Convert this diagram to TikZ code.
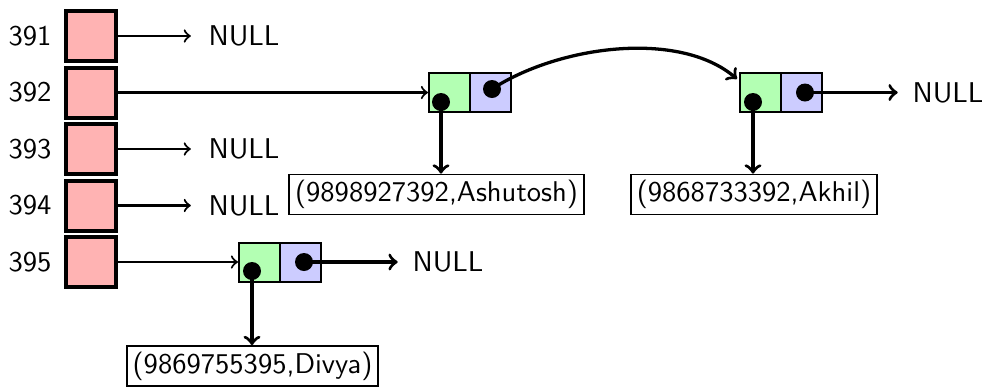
\documentclass[tikz,border=0pt]{standalone}
\usetikzlibrary{calc}
\definecolor{slotpink}{HTML}{FFB3B3}
\definecolor{datagreen}{HTML}{B3FFB3}
\definecolor{nextblue}{HTML}{CCCCFF}
\begin{document}
\begin{tikzpicture}[x=0.35pt,y=-0.35pt,font=\sffamily,
  slot/.style={draw,line width=1.4pt,fill=slotpink,minimum width=17.5pt,minimum height=17.5pt,inner sep=0pt},
  datacell/.style={draw,line width=0.7pt,fill=datagreen,minimum width=14.35pt,minimum height=13.65pt,inner sep=0pt},
  nextcell/.style={datacell,fill=nextblue},
  keybox/.style={draw,line width=0.6pt,inner sep=2pt,minimum height=13.3pt},
  nulltext/.style={anchor=west,inner sep=0pt},
  nullarrow/.style={->,line width=0.75pt,shorten >=6pt},
  ptr/.style={->,line width=1.15pt},
  ptrnull/.style={ptr,shorten >=5pt},
  dot/.style={circle,fill=black,inner sep=0pt,minimum size=6.3pt}]
\useasboundingbox (0,0) rectangle (985,388);

% hash table slots and their indices
\foreach \i/\y in {1/36,2/92.5,3/149,4/205.5,5/262}{
  \node[slot] (s\i) at (91,\y) {};
  \node[anchor=east,inner sep=0pt] (l\i) at (52,\y) {39\i};
}

% empty buckets
\node[nulltext] (z1) at (208,36) {NULL};
\node[nulltext] (z3) at (208,149) {NULL};
\node[nulltext] (z4) at (208,205.5) {NULL};
\draw[nullarrow] (s1.east) -- (z1.west);
\draw[nullarrow] (s3.east) -- (z3.west);
\draw[nullarrow] (s4.east) -- (z4.west);

% bucket 392: first list node
\node[datacell] (a1) at (449.5,92.5) {};
\node[nextcell] (b1) at (490.5,92.5) {};
\node[dot] (da1) at ($(a1)+(-8.5,9.5)$) {};
\node[dot] (db1) at ($(b1)+(1.5,-3.5)$) {};
\node[keybox] (k1) at (436.5,194.5) {(9898927392,Ashutosh)};
\draw[nullarrow,shorten >=0pt] (s2.east) -- (a1.west);
\draw[ptr] (da1.center) -- (da1.center |- k1.north);

% bucket 392: second list node
\node[datacell] (a2) at (760.5,92.5) {};
\node[nextcell] (b2) at (801.5,92.5) {};
\node[dot] (da2) at ($(a2)+(-7.5,9.5)$) {};
\node[dot] (db2) at ($(b2)+(3.5,0)$) {};
\node[keybox] (k2) at (754,194.5) {(9868733392,Akhil)};
\node[nulltext] (z2) at (912,92.5) {NULL};
\coordinate (in2) at ($(a2.north west)+(-2,7)$);
\draw[ptr] (db1.center) .. controls (560,45) and (680,30) .. (in2);
\draw[ptr] (da2.center) -- (da2.center |- k2.north);
\draw[ptrnull] (db2.center) -- (z2.west);

% bucket 395: single list node
\node[datacell] (a3) at (259.5,262) {};
\node[nextcell] (b3) at (300.5,262) {};
\node[dot] (da3) at ($(a3)+(-7.5,9)$) {};
\node[dot] (db3) at ($(b3)+(3.5,0)$) {};
\node[keybox] (k3) at (252.5,366) {(9869755395,Divya)};
\node[nulltext] (z5) at (412,262) {NULL};
\draw[nullarrow,shorten >=0pt] (s5.east) -- (a3.west);
\draw[ptr] (da3.center) -- (da3.center |- k3.north);
\draw[ptrnull] (db3.center) -- (z5.west);
\end{tikzpicture}
\end{document}
